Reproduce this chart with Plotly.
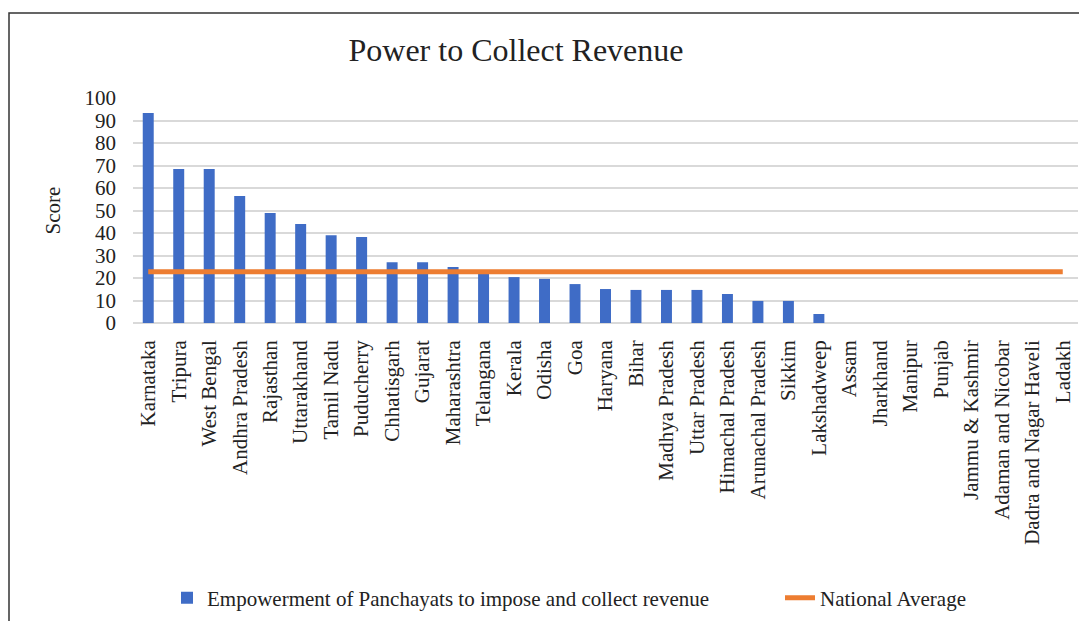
import plotly.graph_objects as go

states = ["Karnataka", "Tripura", "West Bengal", "Andhra Pradesh", "Rajasthan", "Uttarakhand",
          "Tamil Nadu", "Puducherry", "Chhatisgarh", "Gujarat", "Maharashtra", "Telangana",
          "Kerala", "Odisha", "Goa", "Haryana", "Bihar", "Madhya Pradesh", "Uttar Pradesh",
          "Himachal Pradesh", "Arunachal Pradesh", "Sikkim", "Lakshadweep", "Assam", "Jharkhand",
          "Manipur", "Punjab", "Jammu & Kashmir", "Adaman and Nicobar", "Dadra and Nagar Haveli",
          "Ladakh"]
scores = [93.3, 68.4, 68.4, 56.4, 48.9, 44.0, 39.0, 38.2, 27.0, 27.0, 24.9, 22.0,
          20.4, 19.6, 17.3, 15.1, 14.7, 14.7, 14.7, 12.9, 9.8, 9.8, 4.0, 0, 0,
          0, 0, 0, 0, 0, 0]
national_avg = [22.8] * len(states)

serif = "Liberation Serif, Times New Roman, serif"

fig = go.Figure()
fig.add_trace(go.Bar(
    x=states, y=scores, name="Empowerment of Panchayats to impose and collect revenue",
    marker=dict(color="#3F6CC6", line=dict(width=0)), width=0.36, legend="legend",
))
fig.add_trace(go.Scatter(
    x=states, y=national_avg, name="National Average", mode="lines",
    line=dict(color="#ED7D31", width=5), legend="legend2",
))

OFF = 8  # page offset of the figure
L, T = 133 - OFF, 98 - OFF
W, H = 945, 225
FW, FH = 1087, 621
def px(x): return (x - OFF - L) / W
def py(y): return (T + H - (y - OFF)) / H

fig.add_shape(type="rect", xref="paper", yref="paper",
              x0=px(OFF + 1), x1=px(1100), y0=py(13), y1=py(640),
              line=dict(color="#333333", width=1.5), fillcolor="rgba(0,0,0,0)", layer="below")

fig.update_layout(
    width=FW, height=FH,
    margin=dict(l=L, r=FW - L - W, t=T, b=FH - T - H, autoexpand=False),
    paper_bgcolor="white", plot_bgcolor="white",
    font=dict(family=serif, color="#222222", size=21),
    title=dict(text="Power to Collect Revenue", x=(516 - OFF) / FW, xref="container", xanchor="center",
               y=1 - (50 - OFF) / FH, yref="container", yanchor="middle",
               font=dict(size=32, family=serif, color="#222222")),
    bargap=0.6,
    showlegend=True,
    legend=dict(orientation="h", x=px(167), xanchor="left", y=py(598), yanchor="middle",
                font=dict(size=21, family=serif), bgcolor="rgba(0,0,0,0)"),
    legend2=dict(orientation="h", x=px(780), xanchor="left", y=py(598), yanchor="middle",
                 font=dict(size=21, family=serif), bgcolor="rgba(0,0,0,0)"),
    xaxis=dict(tickangle=-90, tickfont=dict(size=21, family=serif), showgrid=False,
               showline=False, ticks="", ticklabelstandoff=12, range=[-0.5, 30.5]),
    yaxis=dict(range=[0, 100], dtick=10, showgrid=True, gridcolor="#d9d9d9", gridwidth=1.5,
               zeroline=True, zerolinecolor="#d9d9d9", zerolinewidth=1.5,
               tickfont=dict(size=21, family=serif), ticklabelstandoff=16,
               title=dict(text="Score", font=dict(size=21, family=serif), standoff=18)),
)

fig.write_html("out.html")
